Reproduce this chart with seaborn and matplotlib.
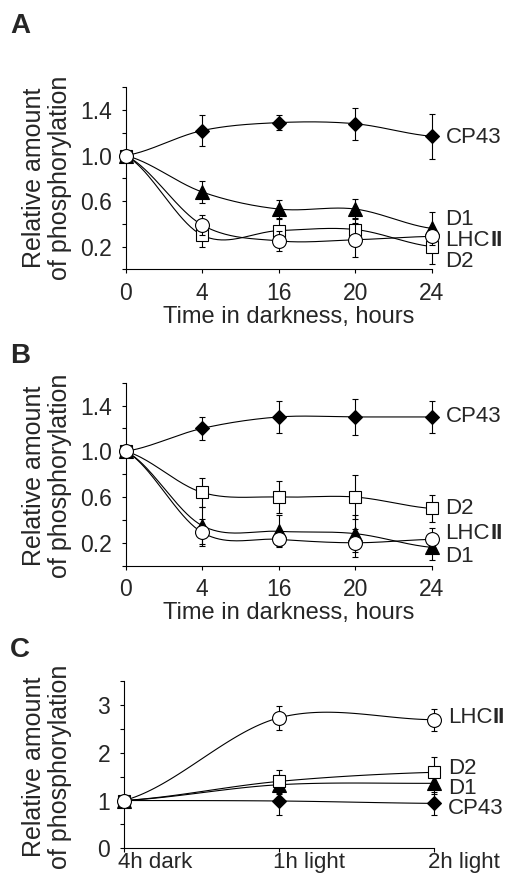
import numpy as np
import matplotlib
matplotlib.use("Agg")
import matplotlib.pyplot as plt
import seaborn as sns

# ---------------- data ----------------
hours = ["0", "4", "16", "20", "24"]
light_steps = ["4h dark", "1h light", "2h light"]

# panel A
cp43_a = [1.00, 1.22, 1.29, 1.28, 1.17]
cp43_a_err = [0, 0.14, 0.065, 0.14, 0.20]
d1_a = [1.00, 0.68, 0.53, 0.53, 0.36]
d1_a_err = [0, 0.10, 0.08, 0.09, 0.14]
d2_a = [1.00, 0.30, 0.34, 0.35, 0.20]
d2_a_err = [0, 0.10, 0.10, 0.10, 0.15]
lhc_a = [1.00, 0.39, 0.25, 0.26, 0.29]
lhc_a_err = [0, 0.09, 0.09, 0.15, 0.08]

# panel B
cp43_b = [1.00, 1.20, 1.30, 1.30, 1.30]
cp43_b_err = [0, 0.10, 0.14, 0.16, 0.14]
d1_b = [1.00, 0.35, 0.30, 0.28, 0.16]
d1_b_err = [0, 0.16, 0.14, 0.16, 0.11]
d2_b = [1.00, 0.64, 0.60, 0.60, 0.50]
d2_b_err = [0, 0.13, 0.14, 0.19, 0.12]
lhc_b = [1.00, 0.29, 0.23, 0.20, 0.23]
lhc_b_err = [0, 0.12, 0.06, 0.12, 0.10]

# panel C
cp43_c = [1.00, 0.99, 0.94]
cp43_c_err = [0, 0.30, 0.24]
d1_c = [1.00, 1.33, 1.36]
d1_c_err = [0, 0.20, 0.22]
d2_c = [1.00, 1.40, 1.59]
d2_c_err = [0, 0.24, 0.31]
lhc_c = [1.00, 2.73, 2.69]
lhc_c_err = [0, 0.25, 0.23]

# ---------------- style ----------------
sns.set_theme(style="ticks")
plt.rcParams['font.family'] = ['Liberation Sans', 'DejaVu Sans']

styles = {
    'CP43': dict(marker='D', ms=7.5, mfc='black'),
    'D1': dict(marker='^', ms=10, mfc='black'),
    'D2': dict(marker='s', ms=9, mfc='white'),
    'LHCII': dict(marker='o', ms=10, mfc='white'),
}
order = ['CP43', 'D1', 'D2', 'LHCII']


def smooth_curve(vals, n=40):
    # Catmull-Rom style smoothing through the points (like Excel smoothed lines)
    y = np.asarray(vals, float)
    p = np.concatenate([[y[0]], y, [y[-1]]])
    xs, ys = [], []
    for i in range(len(y) - 1):
        p0, p1, p2, p3 = p[i], p[i + 1], p[i + 2], p[i + 3]
        last = i == len(y) - 2
        t = np.linspace(0, 1, n, endpoint=last)
        yy = 0.5 * (2 * p1 + (-p0 + p2) * t + (2 * p0 - 5 * p1 + 4 * p2 - p3) * t ** 2
                    + (-p0 + 3 * p1 - 3 * p2 + p3) * t ** 3)
        xs.append(i + t)
        ys.append(yy)
    return np.concatenate(xs), np.concatenate(ys)


def draw_series(ax, name, vals, errs, z):
    st = styles[name]
    xs, ys = smooth_curve(vals)
    sns.lineplot(x=xs, y=ys, ax=ax, color='black', linewidth=0.8, sort=False,
                 estimator=None, zorder=z)
    idx = np.arange(len(vals))
    ax.errorbar(idx, vals, yerr=errs, fmt='none', ecolor='black', elinewidth=0.8,
                capsize=2.5, capthick=0.8, clip_on=False, zorder=z + 0.1)
    ax.plot(idx, vals, linestyle='none', marker=st['marker'], ms=st['ms'],
            mfc=st['mfc'], mec='black', mew=0.8, clip_on=False, zorder=z + 0.2)


def add_label(ax, name, x, y):
    if name == 'LHCII':
        t = ax.annotate('LHC', xy=(x, y), xytext=(10, 0), textcoords='offset points',
                        va='center', ha='left', fontsize=16, annotation_clip=False)
        ax.annotate('II', xy=(1, 0), xycoords=t, va='bottom', ha='left',
                    fontsize=16, fontweight='bold', annotation_clip=False)
    else:
        ax.annotate(name, xy=(x, y), xytext=(10, 0), textcoords='offset points',
                    va='center', ha='left', fontsize=16, annotation_clip=False)


def style_axis(ax):
    sns.despine(ax=ax)
    for s in ['left', 'bottom']:
        ax.spines[s].set_linewidth(0.8)
        ax.spines[s].set_color('black')
    ax.tick_params(direction='out', length=3, width=0.8, color='black',
                   labelsize=16.5, pad=6)
    ax.tick_params(axis='y', pad=7)
    ax.grid(False)


fig = plt.figure(figsize=(5.07, 8.77), dpi=100)

panels = [
    ('A', [0.2479, 0.6929, 0.6036, 0.2075],
     {'CP43': (cp43_a, cp43_a_err), 'D1': (d1_a, d1_a_err),
      'D2': (d2_a, d2_a_err), 'LHCII': (lhc_a, lhc_a_err)},
     {'CP43': 1.16, 'D1': 0.44, 'LHCII': 0.25, 'D2': 0.07}, 13, 0.797),
    ('B', [0.2479, 0.3550, 0.6036, 0.2087],
     {'CP43': (cp43_b, cp43_b_err), 'D1': (d1_b, d1_b_err),
      'D2': (d2_b, d2_b_err), 'LHCII': (lhc_b, lhc_b_err)},
     {'CP43': 1.30, 'D2': 0.50, 'LHCII': 0.28, 'D1': 0.08}, 343, 0.458),
    ('C', [0.2446, 0.0327, 0.6114, 0.1908],
     {'CP43': (cp43_c, cp43_c_err), 'D1': (d1_c, d1_c_err),
      'D2': (d2_c, d2_c_err), 'LHCII': (lhc_c, lhc_c_err)},
     {'LHCII': 2.73, 'D2': 1.67, 'D1': 1.25, 'CP43': 0.83}, 637, 0.126),
]

for letter, rect, series, label_y, letter_top, ylab_y in panels:
    ax = fig.add_axes(rect)
    for k, name in enumerate(order):
        vals, errs = series[name]
        draw_series(ax, name, vals, errs, 3 + k)
    n = len(series['CP43'][0])
    for name in order:
        add_label(ax, name, n - 1, label_y[name])
    style_axis(ax)
    ax.set_xlim(0, n - 1)
    ax.set_xticks(range(n))
    if letter in ('A', 'B'):
        ax.set_ylim(0, 1.6)
        ticks = np.round(np.arange(0, 1.61, 0.2), 1)
        ax.set_yticks(ticks)
        ax.set_yticklabels([f'{t:.1f}' if round(t * 10) % 4 == 2 else '' for t in ticks])
        ax.set_xticklabels(hours)
        ax.set_xlabel('Time in darkness, hours', fontsize=17, labelpad=4)
        ax.xaxis.set_label_coords(0.533, -0.2)
        ax.xaxis.label.set_va('top')
    else:
        ax.set_ylim(0, 3.5)
        ticks = np.arange(0, 3.51, 0.5)
        ax.set_yticks(ticks)
        ax.set_yticklabels([f'{int(t)}' if t == int(t) else '' for t in ticks])
        ax.tick_params(axis='x', pad=0, labelsize=16)
        ax.set_xticklabels(light_steps, ha='left')
        for lab in ax.get_xticklabels():
            lab.set_transform(lab.get_transform() +
                              matplotlib.transforms.ScaledTranslation(-6 / 100, 0, fig.dpi_scale_trans))
    ax.set_ylabel('')
    fig.text(10 / 507, 1 - letter_top / 877, letter, fontsize=20, fontweight='bold',
             va='top', ha='left')
    fig.text(47 / 507, ylab_y, 'Relative amount\nof phosphorylation', rotation=90,
             ha='center', va='center', multialignment='center', fontsize=18,
             linespacing=1.1)

fig.savefig('out.png', dpi=100, facecolor='white')
